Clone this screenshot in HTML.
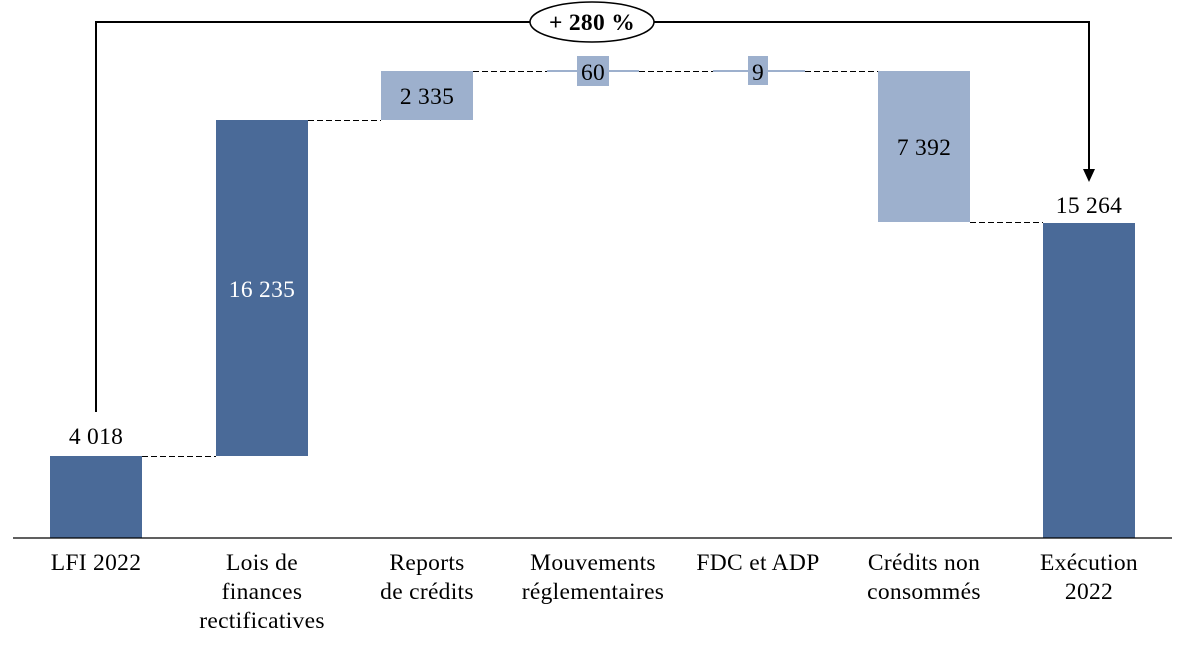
<!DOCTYPE html>
<html><head><meta charset="utf-8"><style>
body{margin:0;background:#fff;}
svg text{font-family:"Liberation Serif",serif;font-size:23.5px;letter-spacing:0.3px;fill:#000;}
</style></head><body>
<svg width="1185" height="652" viewBox="0 0 1185 652" xmlns="http://www.w3.org/2000/svg">
<g fill="#4a6a98">
<rect x="50" y="456" width="92" height="82"/>
<rect x="216" y="120" width="92" height="336"/>
<rect x="1043" y="223" width="92" height="315"/>
</g>
<g fill="#9db0cd">
<rect x="381" y="71" width="92" height="49"/>
<rect x="547" y="70" width="92" height="2"/>
<rect x="577" y="56" width="32" height="30"/>
<rect x="713" y="70" width="92" height="2"/>
<rect x="748" y="56" width="20" height="29"/>
<rect x="878" y="71" width="92" height="151"/>
</g>
<g stroke="#000" stroke-width="1" stroke-dasharray="6,3" shape-rendering="crispEdges">
<line x1="142" y1="456.5" x2="216" y2="456.5"/>
<line x1="308" y1="120.5" x2="381" y2="120.5"/>
<line x1="473" y1="71.5" x2="547" y2="71.5"/>
<line x1="639" y1="71.5" x2="713" y2="71.5"/>
<line x1="805" y1="71.5" x2="878" y2="71.5"/>
<line x1="970" y1="222.5" x2="1043" y2="222.5"/>
</g>
<line x1="13" y1="538" x2="1172" y2="538" stroke="#000" stroke-width="1.3"/>
<polyline points="96,412 96,22 1089,22 1089,170" fill="none" stroke="#000" stroke-width="2"/>
<polygon points="1083,169 1095,169 1089,182" fill="#000"/>
<ellipse cx="592" cy="22" rx="62" ry="20" fill="#fff" stroke="#000" stroke-width="1.5"/>
<text x="592" y="30" text-anchor="middle" font-weight="bold">+ 280 %</text>
<g text-anchor="middle">
<text x="96" y="444">4 018</text>
<text x="262" y="297" style="fill:#fff">16 235</text>
<text x="427" y="104">2 335</text>
<text x="593" y="80">60</text>
<text x="758" y="80">9</text>
<text x="924" y="155">7 392</text>
<text x="1089" y="213">15 264</text>
<text x="96" y="570">LFI 2022</text>
<text x="262" y="570">Lois de</text>
<text x="262" y="599">finances</text>
<text x="262" y="628">rectificatives</text>
<text x="427" y="570">Reports</text>
<text x="427" y="599">de crédits</text>
<text x="593" y="570">Mouvements</text>
<text x="593" y="599">réglementaires</text>
<text x="758" y="570">FDC et ADP</text>
<text x="924" y="570">Crédits non</text>
<text x="924" y="599">consommés</text>
<text x="1089" y="570">Exécution</text>
<text x="1089" y="599">2022</text>
</g>
</svg>
</body></html>
